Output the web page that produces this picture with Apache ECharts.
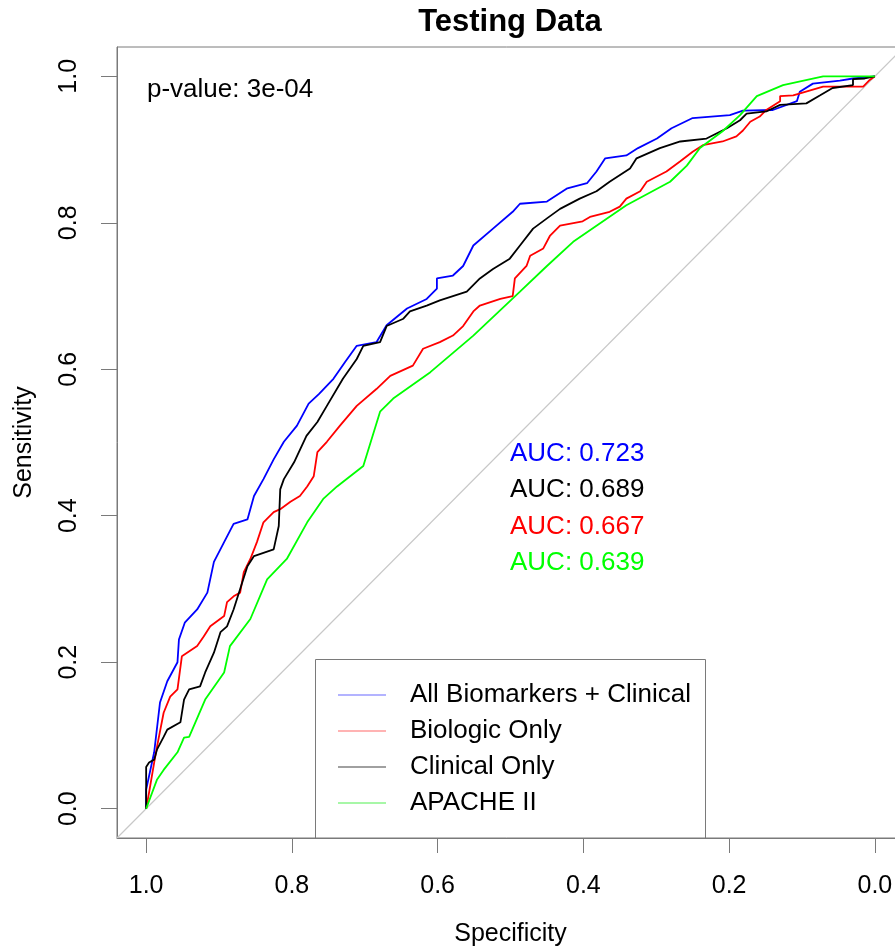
<!DOCTYPE html>
<html><head><meta charset="utf-8">
<script src="https://cdn.jsdelivr.net/npm/echarts@6/dist/echarts.min.js"></script>
<style>html,body{margin:0;padding:0;background:#fff}#c{width:895px;height:949px}</style>
</head><body><div id="c"></div>
<script>
// ---- data ----
const seriesNames = ['All Biomarkers + Clinical', 'Biologic Only', 'Clinical Only', 'APACHE II'];
const seriesColors = ['#0000ff', '#ff0000', '#000000', '#00ff00'];
const legendColors = ['#9a9aff', '#ff9a9a', '#808080', '#8af58a'];
const xTicks = [0, 0.2, 0.4, 0.6, 0.8, 1.0];
const yTicks = [0, 0.2, 0.4, 0.6, 0.8, 1.0];
const diagonal = [[1.04, -0.04], [-0.04, 1.04]];
const aucNames = ['All Biomarkers + Clinical', 'Clinical Only', 'Biologic Only', 'APACHE II'];
const aucValues = [0.723, 0.689, 0.667, 0.639];
const pValueText = 'p-value: 3e-04';

// [specificity, sensitivity]
const allBiomarkers = [[1,0],[1,0.026],[0.989,0.077],[0.981,0.145],[0.971,0.174],[0.957,0.2],[0.955,0.231],[0.947,0.254],[0.93,0.272],[0.916,0.295],[0.907,0.337],[0.893,0.364],[0.88,0.389],[0.861,0.395],[0.852,0.427],[0.839,0.45],[0.825,0.477],[0.811,0.501],[0.793,0.523],[0.777,0.553],[0.763,0.566],[0.743,0.587],[0.727,0.61],[0.711,0.632],[0.684,0.637],[0.67,0.66],[0.642,0.683],[0.615,0.696],[0.601,0.71],[0.601,0.724],[0.579,0.728],[0.565,0.741],[0.551,0.769],[0.524,0.792],[0.497,0.815],[0.487,0.826],[0.45,0.829],[0.422,0.847],[0.395,0.854],[0.382,0.87],[0.37,0.888],[0.341,0.892],[0.325,0.902],[0.299,0.915],[0.279,0.929],[0.25,0.943],[0.199,0.947],[0.181,0.953],[0.14,0.954],[0.107,0.966],[0.103,0.979],[0.085,0.99],[0.048,0.994],[0.03,0.997],[0,1]];
const biologicOnly = [[1,0],[0.996,0.022],[0.989,0.063],[0.985,0.085],[0.976,0.131],[0.967,0.153],[0.957,0.163],[0.951,0.208],[0.93,0.222],[0.921,0.235],[0.912,0.249],[0.893,0.263],[0.889,0.282],[0.88,0.29],[0.871,0.295],[0.866,0.323],[0.857,0.341],[0.848,0.364],[0.839,0.391],[0.825,0.405],[0.816,0.409],[0.802,0.419],[0.789,0.427],[0.779,0.44],[0.77,0.454],[0.765,0.487],[0.752,0.501],[0.734,0.523],[0.711,0.55],[0.684,0.573],[0.665,0.591],[0.634,0.605],[0.62,0.628],[0.597,0.637],[0.579,0.646],[0.565,0.659],[0.551,0.679],[0.542,0.687],[0.514,0.696],[0.497,0.7],[0.494,0.724],[0.478,0.741],[0.473,0.755],[0.455,0.765],[0.446,0.782],[0.432,0.796],[0.401,0.802],[0.391,0.808],[0.364,0.815],[0.35,0.822],[0.341,0.833],[0.322,0.843],[0.313,0.856],[0.286,0.87],[0.267,0.884],[0.25,0.897],[0.236,0.906],[0.209,0.911],[0.19,0.918],[0.181,0.926],[0.171,0.938],[0.158,0.945],[0.149,0.954],[0.13,0.966],[0.13,0.973],[0.112,0.974],[0.071,0.986],[0.016,0.986],[0.007,0.995],[0,1]];
const clinicalOnly = [[1,0],[1,0.057],[0.996,0.063],[0.989,0.067],[0.985,0.081],[0.976,0.098],[0.971,0.108],[0.953,0.118],[0.948,0.149],[0.941,0.163],[0.926,0.167],[0.919,0.186],[0.907,0.213],[0.898,0.241],[0.889,0.249],[0.88,0.272],[0.871,0.3],[0.861,0.331],[0.852,0.345],[0.825,0.354],[0.818,0.386],[0.816,0.436],[0.811,0.45],[0.797,0.473],[0.78,0.509],[0.765,0.528],[0.752,0.55],[0.73,0.587],[0.711,0.614],[0.702,0.632],[0.679,0.637],[0.67,0.659],[0.647,0.669],[0.638,0.679],[0.615,0.687],[0.597,0.694],[0.56,0.706],[0.542,0.724],[0.524,0.737],[0.501,0.751],[0.487,0.769],[0.469,0.792],[0.45,0.806],[0.432,0.819],[0.405,0.833],[0.382,0.843],[0.364,0.856],[0.336,0.874],[0.327,0.888],[0.295,0.902],[0.267,0.911],[0.231,0.915],[0.203,0.929],[0.185,0.94],[0.176,0.949],[0.149,0.952],[0.13,0.961],[0.094,0.963],[0.075,0.974],[0.058,0.984],[0.03,0.988],[0.03,0.996],[0.014,0.997],[0,1]];
const apacheII = [[1,0],[0.985,0.04],[0.976,0.053],[0.957,0.077],[0.948,0.097],[0.941,0.098],[0.919,0.149],[0.893,0.186],[0.885,0.222],[0.857,0.259],[0.834,0.313],[0.807,0.341],[0.779,0.391],[0.757,0.423],[0.738,0.44],[0.702,0.468],[0.679,0.542],[0.661,0.56],[0.61,0.596],[0.551,0.646],[0.487,0.706],[0.45,0.741],[0.414,0.774],[0.382,0.796],[0.341,0.824],[0.281,0.856],[0.258,0.878],[0.24,0.902],[0.209,0.925],[0.185,0.947],[0.162,0.973],[0.126,0.988],[0.071,1],[0,1]];
const curves = [allBiomarkers, biologicOnly, clinicalOnly, apacheII];

// ---- chart ----
const FONT = '"Liberation Sans", Arial, sans-serif';
const AXIS_GRAY = '#7a7a7a';
const chart = echarts.init(document.getElementById('c'), null, {renderer: 'canvas'});

const series = [{
  type: 'line', name: 'diag', data: diagonal, symbol: 'none', silent: true,
  lineStyle: {color: '#c8c8c8', width: 1.2}, z: 1
}];
curves.forEach((d, i) => series.push({
  type: 'line', name: seriesNames[i], data: d, symbol: 'none',
  lineStyle: {color: seriesColors[i], width: 1.8}, itemStyle: {color: seriesColors[i]}, z: 2
}));

const graphics = [
  {type: 'text', x: 510, y: 22, style: {text: 'Testing Data', align: 'center', verticalAlign: 'middle', fontSize: 31, fontWeight: 'bold', fontFamily: FONT, fill: '#000'}},
  {type: 'text', x: 147, y: 90, style: {text: pValueText, align: 'left', verticalAlign: 'middle', fontSize: 26, fontFamily: FONT, fill: '#000'}},
  {type: 'rect', shape: {x: 315.5, y: 659.5, width: 390, height: 179}, style: {fill: 'none', stroke: AXIS_GRAY, lineWidth: 1}, z: 10}
];
aucValues.forEach((v, i) => {
  const c = seriesColors[seriesNames.indexOf(aucNames[i])];
  graphics.push({type: 'text', x: 510, y: 454 + i * 36.3, style: {text: 'AUC: ' + v.toFixed(3), align: 'left', verticalAlign: 'middle', fontSize: 26, fontFamily: FONT, fill: c}});
});

chart.setOption({
  animation: false,
  backgroundColor: '#fff',
  grid: {left: 117, top: 47, width: 787, height: 791, show: true, borderColor: AXIS_GRAY, borderWidth: 1, containLabel: false, outerBoundsMode: 'none'},
  xAxis: {
    type: 'value', min: -0.04, max: 1.04, inverse: true,
    splitLine: {show: false},
    axisLine: {show: true, onZero: false, lineStyle: {color: AXIS_GRAY}},
    axisTick: {show: true, customValues: xTicks, length: 15, lineStyle: {color: AXIS_GRAY}},
    axisLabel: {customValues: xTicks, formatter: v => v.toFixed(1), margin: 36, fontSize: 25, fontFamily: FONT, color: '#000', hideOverlap: false},
    name: 'Specificity', nameLocation: 'middle', nameGap: 84,
    nameTextStyle: {fontSize: 25, fontFamily: FONT, color: '#000'}
  },
  yAxis: {
    type: 'value', min: -0.04, max: 1.04,
    splitLine: {show: false},
    axisLine: {show: true, onZero: false, lineStyle: {color: AXIS_GRAY}},
    axisTick: {show: true, customValues: yTicks, length: 16, lineStyle: {color: AXIS_GRAY}},
    axisLabel: {customValues: yTicks, formatter: v => v.toFixed(1), margin: 35, rotate: 90, fontSize: 25, fontFamily: FONT, color: '#000'},
    name: 'Sensitivity', nameLocation: 'middle', nameGap: 80, nameRotate: 90,
    nameTextStyle: {fontSize: 25, fontFamily: FONT, color: '#000'}
  },
  legend: {
    orient: 'vertical', left: 338, top: 680, padding: 0,
    icon: 'rect', itemWidth: 48, itemHeight: 1.6, itemGap: 6,
    selectedMode: false,
    data: seriesNames.map((n, i) => ({name: n, itemStyle: {color: legendColors[i]}})),
    textStyle: {fontSize: 26, fontFamily: FONT, color: '#000', lineHeight: 30, padding: [0, 0, 0, 19]}
  },
  graphic: graphics,
  series: series
});
</script></body></html>
